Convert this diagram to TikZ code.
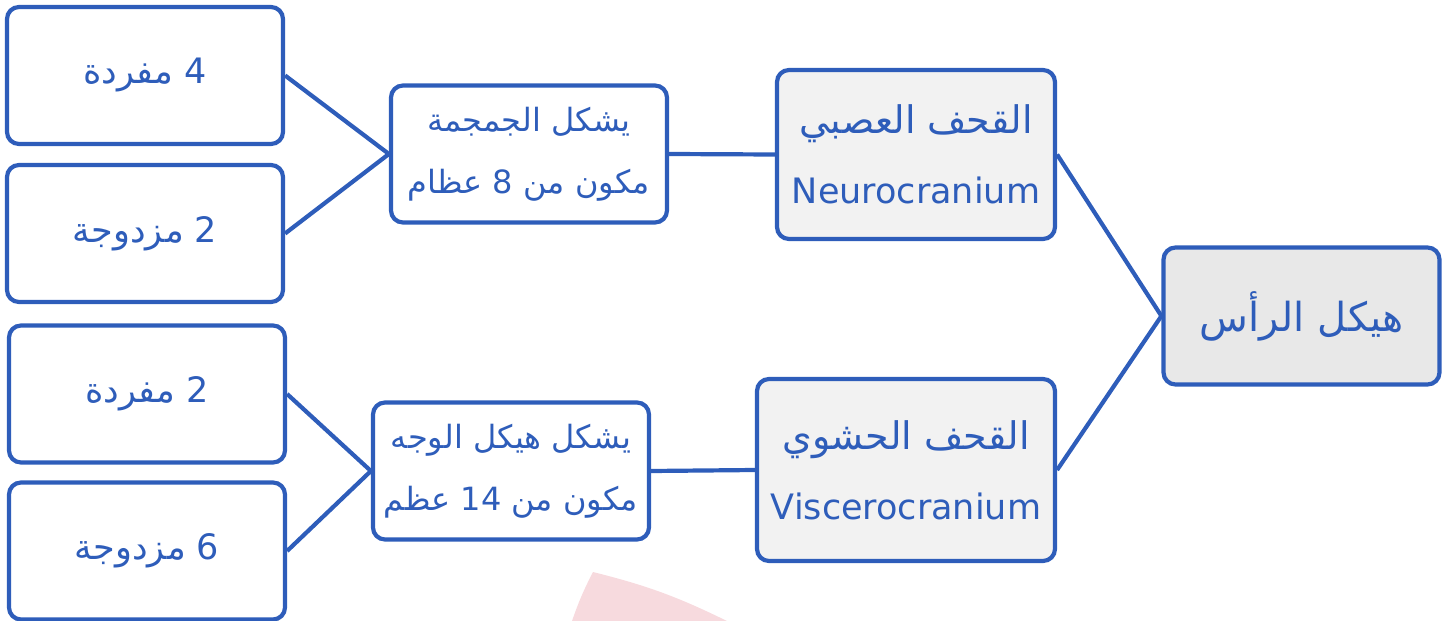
\documentclass[tikz,border=0pt]{standalone}
\usepackage{fontspec}
\setmainfont{DejaVu Sans}
\newfontfamily\arabicfont[Script=Arabic]{DejaVu Sans}
\TeXXeTstate=1
\usetikzlibrary{positioning}
\definecolor{bc}{RGB}{46,93,186}
\definecolor{gc}{RGB}{242,242,242}
\definecolor{hc}{RGB}{232,232,232}
\definecolor{pc}{RGB}{247,218,222}
\tikzset{leaf/.style={draw=bc,fill=white,line width=2.1pt,rounded corners=6pt,text=bc,
  minimum width=138pt,minimum height=68.5pt,align=center,inner sep=2pt,
  font=\arabicfont\fontsize{17.5}{20}\selectfont},
 mid/.style={leaf,font=\arabicfont\fontsize{16}{31}\selectfont},
 part/.style={leaf,fill=gc,font=\arabicfont\fontsize{19}{35}\selectfont},
 root/.style={leaf,fill=hc,font=\arabicfont\fontsize{20}{24}\selectfont},
 wire/.style={draw=bc,line width=2.1pt}}

\begin{document}
\begin{tikzpicture}[x=0.5pt,y=-0.5pt]
\useasboundingbox (0,0) rectangle (1453,621);
% faint mark at the bottom
\fill[pc] (593,572) to[bend left=6] (727,621) -- (572,621) to[bend left=4] cycle;
% leaves
\node[leaf] (s4) at (145,75.5) {\beginR 4 مفردة\endR};
\node[leaf] (d2) at (145,233.5) {\beginR 2 مزدوجة\endR};
\node[leaf] (s2) at (147,394) {\beginR 2 مفردة\endR};
\node[leaf] (d6) at (147,551) {\beginR 6 مزدوجة\endR};
% groups
\node[mid] (skull) at (529,154) {\beginR يشكل الجمجمة\endR\\\beginR مكون من 8 عظام\endR};
\node[mid] (face) at (511,471) {\beginR يشكل هيكل الوجه\endR\\\beginR مكون من \beginL 14\endL{} عظم\endR};
\node[part,minimum width=139pt,minimum height=84.5pt] (neuro) at (916,154.5)
 {\beginR القحف العصبي\endR\\{\rmfamily\fontsize{17.5}{20}\selectfont Neurocranium}};
\node[part,minimum width=149pt,minimum height=91pt] (visc) at (906,470)
 {\beginR القحف الحشوي\endR\\{\rmfamily\fontsize{17.5}{20}\selectfont Viscerocranium}};
\node[root] (head) at (1301.5,316) {\beginR هيكل الرأس\endR};
% wires
\foreach \a/\b in {s4/skull,d2/skull,s2/face,d6/face,skull/neuro,face/visc,neuro/head,visc/head}
 {\draw[wire] (\a.east) -- (\b.west);}
\end{tikzpicture}
\end{document}
